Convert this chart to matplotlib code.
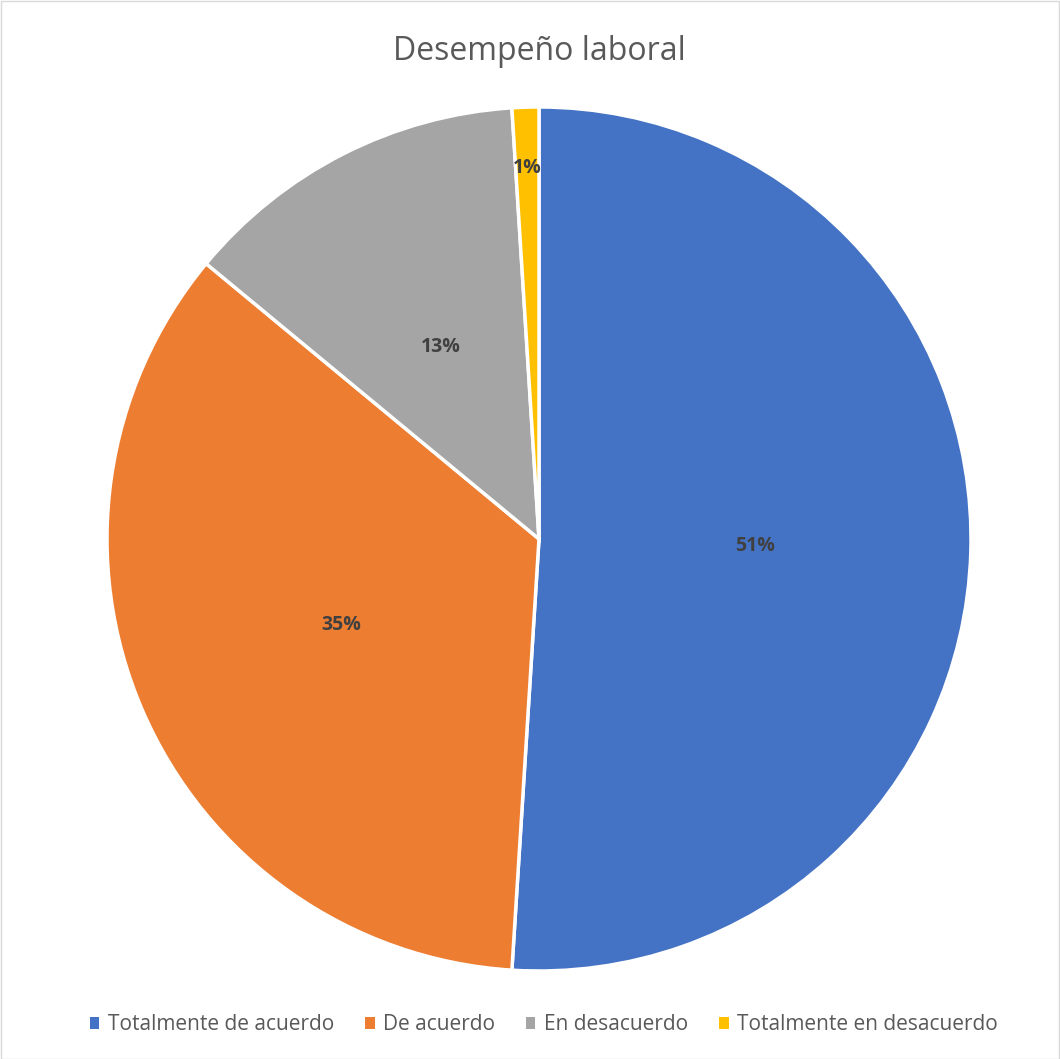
import numpy as np
import matplotlib
matplotlib.use('Agg')
import matplotlib.pyplot as plt
from matplotlib.patches import Rectangle

# datos
categorias = ['Totalmente de acuerdo', 'De acuerdo', 'En desacuerdo', 'Totalmente en desacuerdo']
valores = [51, 35, 13, 1]
colores = ['#4472C4', '#ED7D31', '#A5A5A5', '#FFC000']
titulo = 'Desempeño laboral'

plt.rcParams['font.family'] = ['Open Sans', 'DejaVu Sans']

W, H = 1060, 1059
fig = plt.figure(figsize=(W/100, H/100), dpi=100)
fig.patches.append(Rectangle((0.5/W, 0.5/H), 1 - 1.5/W, 1 - 1.5/H, transform=fig.transFigure,
                             fill=False, edgecolor='#D9D9D9', linewidth=1))

cx, cy, r = 539, 539, 432
ax = fig.add_axes([(cx - r)/W, (H - cy - r)/H, 2*r/W, 2*r/H])
wedges, texts, autotexts = ax.pie(valores, colors=colores, startangle=90, counterclock=False,
                                  radius=1.0, autopct='%1.0f%%', pctdistance=0.5,
                                  wedgeprops=dict(edgecolor='white', linewidth=2.5),
                                  textprops=dict(color='#404040', fontsize=14, fontweight='bold'))
ax.set_xlim(-1, 1); ax.set_ylim(-1, 1)
ax.set_aspect('equal')
ax.axis('off')

# el 1% va más afuera
w = wedges[3]
ang = np.radians((w.theta1 + w.theta2) / 2)
autotexts[3].set_position((0.86*np.cos(ang), 0.86*np.sin(ang)))

fig.text(0.5085, 1 - 52/H, titulo, ha='center', va='center', fontsize=23, color='#595959')

leg = fig.legend(wedges, categorias, loc='center', bbox_to_anchor=(0.513, 1 - 1025/H), ncol=4,
                 frameon=False, fontsize=15, handlelength=0.45, handleheight=0.45,
                 handletextpad=0.4, columnspacing=1.5, labelcolor='#595959')
for h in leg.legend_handles:
    h.set_edgecolor('none')

fig.savefig('out.png', dpi=100)
